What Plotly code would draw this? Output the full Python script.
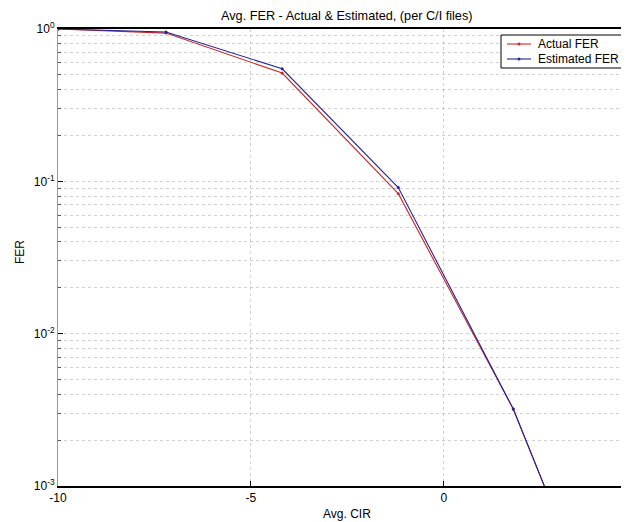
import plotly.graph_objects as go

# Data
cir = [-10.0, -7.2, -4.19, -1.18, 1.8, 4.8]
actual_fer = [1.0, 0.94, 0.514, 0.083, 0.0032, 4.2e-5]
estimated_fer = [1.0, 0.955, 0.548, 0.091, 0.0032, 4.2e-5]

series_names = ["Actual FER", "Estimated FER"]
series_colors = ["#c8282c", "#24249a"]

y_tickvals = [1e-3, 1e-2, 1e-1, 1]
y_ticktext = ["10<sup>-3</sup>", "10<sup>-2</sup>", "10<sup>-1</sup>", "10<sup>0</sup>"]
x_tickvals = [-10, -5, 0, 5]
x_ticktext = ["-10", "-5", "0", "5"]

# page body has an 8px default margin: work in screen pixels, then offset
OFF = 8
W, H = 629 - OFF, 522 - OFF
L, R, T, B = 58 - OFF, 0, 29 - OFF, 36
PW, PH = W - L - R, H - T - B


def px_x(sx):
    return (sx - OFF - L) / PW


def px_y(sy):
    return 1 - (sy - OFF - T) / PH


FONT = "Liberation Sans, Arial, sans-serif"

fig = go.Figure()
for name, ys, col in zip(series_names, [actual_fer, estimated_fer], series_colors):
    fig.add_trace(go.Scatter(
        x=cir, y=ys, mode="lines+markers", name=name,
        line=dict(color=col, width=1.1),
        marker=dict(color=col, size=3),
    ))

grid_col = "rgba(150,150,150,0.45)"

# custom MATLAB-style legend box
shapes = [dict(type="rect", xref="paper", yref="paper",
               x0=px_x(501), x1=px_x(640), y0=px_y(68), y1=px_y(35),
               line=dict(color="black", width=1), fillcolor="white", layer="above")]
annotations = []
for i, (name, col) in enumerate(zip(series_names, series_colors)):
    sy = 44 + 15 * i
    shapes.append(dict(type="line", xref="paper", yref="paper",
                       x0=px_x(507), x1=px_x(531), y0=px_y(sy), y1=px_y(sy),
                       line=dict(color=col, width=1.1), layer="above"))
    shapes.append(dict(type="circle", xref="paper", yref="paper",
                       x0=px_x(517.5), x1=px_x(520.5), y0=px_y(sy + 1.5), y1=px_y(sy - 1.5),
                       line=dict(color=col, width=0), fillcolor=col, layer="above"))
    annotations.append(dict(text=name, xref="paper", yref="paper",
                            x=px_x(536), y=px_y(sy), xanchor="left", yanchor="middle",
                            showarrow=False,
                            font=dict(family=FONT, size=12, color="black")))

annotations += [
    dict(text="Avg. FER - Actual &amp; Estimated, (per C/I files)",
         xref="paper", yref="paper", x=px_x(346), y=px_y(16),
         xanchor="center", yanchor="middle", showarrow=False,
         font=dict(family=FONT, size=12.7, color="black")),
    dict(text="Avg. CIR", xref="paper", yref="paper",
         x=px_x(347), y=px_y(514),
         xanchor="center", yanchor="middle", showarrow=False,
         font=dict(family=FONT, size=12, color="black")),
    dict(text="FER", xref="paper", yref="paper", textangle=-90,
         x=px_x(20), y=px_y(252),
         xanchor="center", yanchor="middle", showarrow=False,
         font=dict(family=FONT, size=12, color="black")),
]

fig.update_layout(
    width=W, height=H,
    margin=dict(l=L, r=R, t=T, b=B, pad=0),
    paper_bgcolor="white", plot_bgcolor="white",
    font=dict(family=FONT, size=12, color="black"),
    showlegend=False,
    xaxis=dict(
        range=[-10, 4.8],
        tickmode="array", tickvals=x_tickvals, ticktext=x_ticktext,
        ticks="inside", ticklen=5, tickcolor="black",
        showline=True, linecolor="black", linewidth=1.5, mirror=True,
        showgrid=True, gridcolor=grid_col, griddash="dot", gridwidth=1,
        zeroline=False,
        tickfont=dict(family=FONT, size=12, color="black"),
    ),
    yaxis=dict(
        type="log", range=[-3, 0],
        tickmode="array", tickvals=y_tickvals, ticktext=y_ticktext,
        ticks="inside", ticklen=5, tickcolor="black",
        showline=True, linecolor="#9a9a9a", linewidth=1,
        showgrid=True, gridcolor=grid_col, griddash="dot", gridwidth=1,
        zeroline=False,
        tickfont=dict(family=FONT, size=12, color="black"),
        minor=dict(
            tickvals=[m * 10 ** e for e in (-3, -2, -1) for m in range(2, 10)],
            ticks="inside", ticklen=3, tickcolor="#555555",
            showgrid=True, gridcolor=grid_col, griddash="dot", gridwidth=1,
        ),
    ),
    shapes=shapes,
    annotations=annotations,
)

fig.write_html("out.html")
